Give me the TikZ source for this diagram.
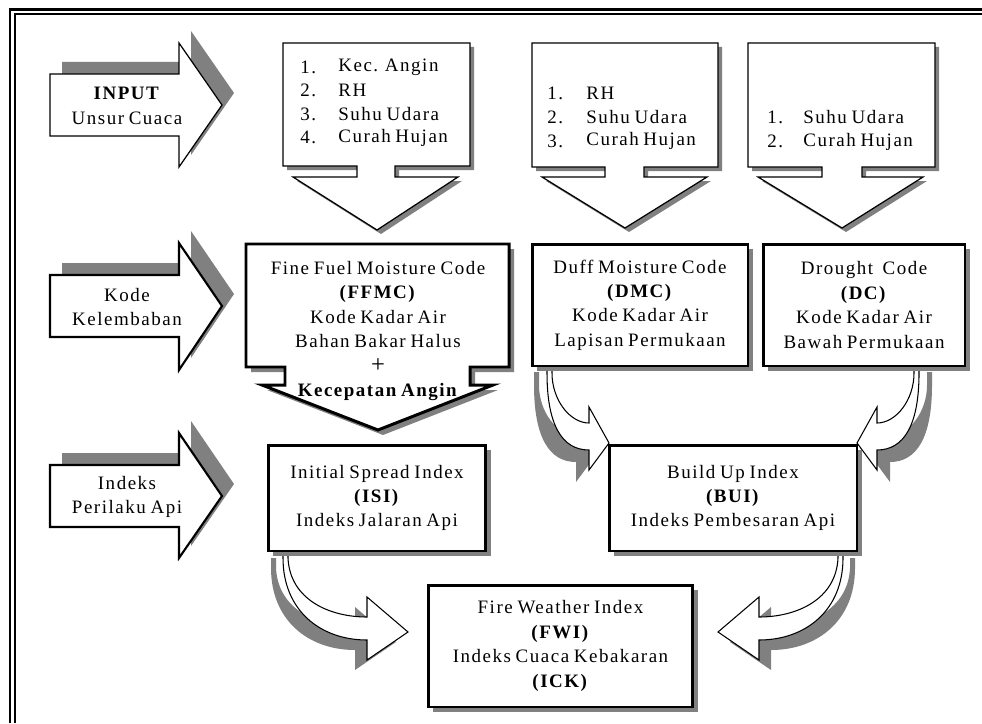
\documentclass[tikz,border=0pt]{standalone}
\usepackage{fontspec}
\setmainfont{Liberation Serif}[LetterSpace=8, WordSpace=0.75]
\usetikzlibrary{shadows}

\definecolor{shadowgray}{RGB}{128,128,128}

% shape with a flat gray copy behind it: #1 style, #2 shadow shift, #3 path
\newcommand{\shadowed}[3]{%
  \fill[shadowgray, shift={#2}] #3;
  \filldraw[fill=white, draw=black, #1] #3;}

\begin{document}
\begin{tikzpicture}[x=0.02cm, y=-0.02cm, line join=miter,
  txt/.style={font=\fontsize{10.8pt}{13.9pt}\selectfont, inner sep=0pt, align=center},
  codebox/.style={txt, draw, fill=white, line width=1.7pt,
    drop shadow={shadow xshift=0.1cm, shadow yshift=-0.1cm, fill=shadowgray, opacity=1}}]
  \useasboundingbox (0,0) rectangle (982,723);

  % Page frame
  \draw[line width=1.7pt] (10,723) -- (10,9.5) -- (982,9.5);
  \draw[line width=0.85pt] (15,723) -- (15,14) -- (982,14);

  % Left block arrows
  \shadowed{line width=0.7pt}{(12,-12)}{(50,74) -- (179,74) -- (179,43) -- (222,105) -- (179,167) -- (179,136) -- (50,136) -- cycle}
  \node[txt] (input) at (127,106) {\textbf{INPUT}\\Unsur Cuaca};

  \shadowed{line width=1.2pt}{(12,-12)}{(50,275) -- (179,275) -- (179,243) -- (222,306) -- (179,370) -- (179,337) -- (50,337) -- cycle}
  \node[txt] (kode) at (127,307) {Kode\\Kelembaban};

  \shadowed{line width=1.2pt}{(12,-12)}{(50,465) -- (179,465) -- (179,433) -- (222,496) -- (179,558) -- (179,527) -- (50,527) -- cycle}
  \node[txt] (perilaku) at (127,497) {Indeks\\Perilaku Api};

  % Weather input callouts
  \shadowed{line width=0.7pt}{(4,4)}{(283,43) -- (470,43) -- (470,166) -- (395,166) -- (395,177) -- (458,177) -- (377,230) -- (293,177) -- (357,177) -- (357,166) -- (283,166) -- cycle}
  \foreach \t [count=\i] in {Kec. Angin, RH, Suhu Udara, Curah Hujan} {
    \node[txt, anchor=west] (ffmcnum\i) at (300,{43.5+23.5*\i}) {\i.};
    \node[txt, anchor=west] (ffmcin\i) at (338,{43.5+23.5*\i}) {\t};
  }

  \shadowed{line width=0.7pt}{(4,4)}{(532,43) -- (718,43) -- (718,167) -- (644,167) -- (644,177) -- (707,177) -- (625,228) -- (542,177) -- (605,177) -- (605,167) -- (532,167) -- cycle}
  \foreach \t [count=\i] in {RH, Suhu Udara, Curah Hujan} {
    \node[txt, anchor=west] (dmcnum\i) at (547,{69+24*\i}) {\i.};
    \node[txt, anchor=west] (dmcin\i) at (586,{69+24*\i}) {\t};
  }

  \shadowed{line width=0.7pt}{(4,4)}{(748,43) -- (935,43) -- (935,167) -- (862,167) -- (862,177) -- (923,177) -- (842,228) -- (758,177) -- (822,177) -- (822,167) -- (748,167) -- cycle}
  \foreach \t [count=\i] in {Suhu Udara, Curah Hujan} {
    \node[txt, anchor=west] (dcnum\i) at (767,{93.5+24*\i}) {\i.};
    \node[txt, anchor=west] (dcin\i) at (803,{93.5+24*\i}) {\t};
  }

  % FFMC callout
  \shadowed{line width=1.7pt}{(5,5)}{(246,244) -- (509,244) -- (509,367) -- (470,367) -- (470,385) -- (493,385) -- (378,430) -- (262,385) -- (285,385) -- (285,367) -- (246,367) -- cycle}
  \node[txt] (ffmc) at (378,331) {Fine Fuel Moisture Code\\\textbf{(FFMC)}\\Kode Kadar Air\\Bahan Bakar Halus\\{\fontsize{14pt}{13.9pt}\selectfont +}\\\textbf{Kecepatan Angin}};

  % Curved arrows
  \shadowed{line width=0.6pt}{(-13,12)}{(547,360) -- (547,373) .. controls (547,425) and (562,450) .. (589,450) -- (589,470) -- (609,443) -- (589,407) -- (589,423) .. controls (570,423) and (552,400) .. (552,373) -- (552,360) -- cycle}
  \shadowed{line width=0.6pt}{(13,12)}{(919,360) -- (919,373) .. controls (919,425) and (904,450) .. (877,450) -- (877,470) -- (857,443) -- (877,407) -- (877,423) .. controls (896,423) and (914,400) .. (914,373) -- (914,360) -- cycle}
  \shadowed{line width=0.6pt}{(-12,10)}{(283,548) -- (283,558) .. controls (283,610) and (320,640) .. (367,640) -- (367,660) -- (408,632) -- (367,597) -- (367,617) .. controls (330,617) and (290,600) .. (288,558) -- (288,548) -- cycle}
  \shadowed{line width=0.6pt}{(12,10)}{(843,548) -- (843,558) .. controls (843,610) and (806,640) .. (759,640) -- (759,660) -- (718,632) -- (759,597) -- (759,617) .. controls (796,617) and (836,600) .. (838,558) -- (838,548) -- cycle}

  % Code and index boxes
  \node[codebox, minimum width=4.32cm, minimum height=2.44cm] (dmc) at (640,305) {Duff Moisture Code\\\textbf{(DMC)}\\Kode Kadar Air\\Lapisan Permukaan};
  \node[codebox, minimum width=4.04cm, minimum height=2.44cm] (dc) at (864,305) {Drought\ \ Code\\\textbf{(DC)}\\Kode Kadar Air\\Bawah Permukaan};
  \node[codebox, minimum width=4.36cm, minimum height=2.12cm] (isi) at (377,498) {Initial Spread Index\\\textbf{(ISI)}\\Indeks Jalaran Api};
  \node[codebox, minimum width=4.96cm, minimum height=2.12cm] (bui) at (733,498) {Build Up Index\\\textbf{(BUI)}\\Indeks Pembesaran Api};
  \node[codebox, minimum width=5.3cm, minimum height=2.44cm] (fwi) at (560.5,646) {Fire Weather Index\\\textbf{(FWI)}\\Indeks Cuaca Kebakaran\\\textbf{(ICK)}};
\end{tikzpicture}
\end{document}
